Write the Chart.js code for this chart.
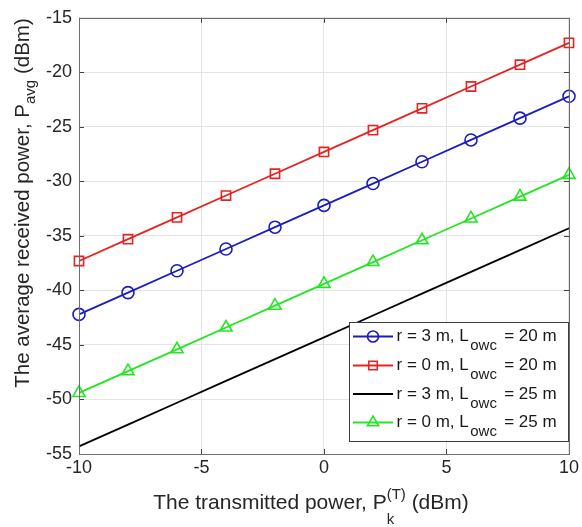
<!DOCTYPE html>
<html>
<head>
<meta charset="utf-8">
<script src="https://cdn.jsdelivr.net/npm/chart.js@4.4.1/dist/chart.umd.min.js"></script>
<style>
  html, body { margin: 0; padding: 0; background: #fff; }
  #wrap { position: relative; width: 582px; height: 527px; }
</style>
</head>
<body>
<div id="wrap"><canvas id="chart" width="582" height="527"></canvas></div>
<script>
// transmitted power P_k^(T) in dBm
const txPower = [-10, -8, -6, -4, -2, 0, 2, 4, 6, 8, 10];

// average received power in dBm
const rxR3L20 = [-42.2, -40.2, -38.2, -36.2, -34.2, -32.2, -30.2, -28.2, -26.2, -24.2, -22.2];
const rxR0L20 = [-37.3, -35.3, -33.3, -31.3, -29.3, -27.3, -25.3, -23.3, -21.3, -19.3, -17.3];
const rxR3L25 = [-54.3, -52.3, -50.3, -48.3, -46.3, -44.3, -42.3, -40.3, -38.3, -36.3, -34.3];
const rxR0L25 = [-49.4, -47.4, -45.4, -43.4, -41.4, -39.4, -37.4, -35.4, -33.4, -31.4, -29.4];

const xTicks = [-10, -5, 0, 5, 10];
const yTicks = [-55, -50, -45, -40, -35, -30, -25, -20, -15];

// legend text: [before subscript, subscript, after]
const seriesNames = [
  ['r = 3 m, L', 'owc', ' = 20 m'],
  ['r = 0 m, L', 'owc', ' = 20 m'],
  ['r = 3 m, L', 'owc', ' = 25 m'],
  ['r = 0 m, L', 'owc', ' = 25 m']
];

const FONT = '"Liberation Sans", Arial, Helvetica, sans-serif';
const AXIS_GRAY = '#6e6e6e';

const styles = [
  { color: '#1c1cc0', pointStyle: 'circle', radius: 6 },
  { color: '#e82222', pointStyle: 'rect', radius: 6.5 },
  { color: '#000000', pointStyle: false, radius: 0 },
  { color: '#22e622', pointStyle: 'triangle', radius: 7 }
];

const toPoints = ys => txPower.map((x, i) => ({ x, y: ys[i] }));
const seriesData = [rxR3L20, rxR0L20, rxR3L25, rxR0L25];

const datasets = seriesData.map((ys, i) => ({
  label: seriesNames[i].join(''),
  data: toPoints(ys),
  borderColor: styles[i].color,
  backgroundColor: 'rgba(0,0,0,0)',
  borderWidth: 1.8,
  pointStyle: styles[i].pointStyle || 'circle',
  pointRadius: styles[i].radius,
  pointBorderWidth: 1.6,
  pointBackgroundColor: 'rgba(0,0,0,0)',
  pointBorderColor: styles[i].color,
  tension: 0,
  clip: false
}));

// draw a string made of parts with different size / vertical shift
function drawParts(ctx, parts, x, y) {
  let cx = x;
  parts.forEach(p => {
    cx += p.gap || 0;
    if (p.stack) {
      // superscript and subscript stacked at the same x
      let w = 0;
      p.stack.forEach(s => {
        ctx.font = s.size + 'px ' + FONT;
        ctx.fillText(s.text, cx, y + s.dy);
        w = Math.max(w, ctx.measureText(s.text).width);
      });
      cx += w;
    } else {
      ctx.font = p.size + 'px ' + FONT;
      ctx.fillText(p.text, cx, y + (p.dy || 0));
      cx += ctx.measureText(p.text).width;
    }
  });
  return cx - x;
}

function measureParts(ctx, parts) {
  let w = 0;
  parts.forEach(p => {
    w += p.gap || 0;
    if (p.stack) {
      let m = 0;
      p.stack.forEach(s => {
        ctx.font = s.size + 'px ' + FONT;
        m = Math.max(m, ctx.measureText(s.text).width);
      });
      w += m;
    } else {
      ctx.font = p.size + 'px ' + FONT;
      w += ctx.measureText(p.text).width;
    }
  });
  return w;
}

const xTitle = [
  { text: 'The transmitted power, P', size: 21 },
  { stack: [{ text: '(T)', size: 15, dy: -10 }, { text: 'k', size: 15, dy: 15 }] },
  { text: ' (dBm)', size: 21 }
];
const yTitle = [
  { text: 'The average received power, P', size: 20.5 },
  { text: 'avg', size: 15, dy: 6 },
  { text: ' (dBm)', size: 20.5 }
];

const matlabFrame = {
  id: 'matlabFrame',
  afterDraw(chart) {
    const { ctx, chartArea: a, scales } = chart;
    ctx.save();

    // inward tick marks on all four sides
    ctx.strokeStyle = '#404040';
    ctx.lineWidth = 1;
    ctx.beginPath();
    xTicks.forEach(v => {
      const px = Math.round(scales.x.getPixelForValue(v)) + 0.5;
      ctx.moveTo(px, a.bottom); ctx.lineTo(px, a.bottom - 5);
      ctx.moveTo(px, a.top); ctx.lineTo(px, a.top + 5);
    });
    yTicks.forEach(v => {
      const py = Math.round(scales.y.getPixelForValue(v)) + 0.5;
      ctx.moveTo(a.left, py); ctx.lineTo(a.left + 5, py);
      ctx.moveTo(a.right, py); ctx.lineTo(a.right - 5, py);
    });
    ctx.stroke();

    // box
    ctx.strokeStyle = AXIS_GRAY;
    ctx.strokeRect(Math.round(a.left) + 0.5, Math.round(a.top) + 0.5,
      Math.round(a.right - a.left), Math.round(a.bottom - a.top));

    // axis titles
    ctx.fillStyle = '#262626';
    ctx.textBaseline = 'alphabetic';
    ctx.textAlign = 'left';
    const xw = measureParts(ctx, xTitle);
    drawParts(ctx, xTitle, 311 - xw / 2, 509);

    const yw = measureParts(ctx, yTitle);
    ctx.save();
    ctx.translate(28.5, 203);
    ctx.rotate(-Math.PI / 2);
    drawParts(ctx, yTitle, -yw / 2, 0);
    ctx.restore();

    // legend box
    const lx = 349.5, ly = 322.5, lw = 219, lh = 119;
    ctx.fillStyle = '#ffffff';
    ctx.fillRect(lx, ly, lw, lh);
    ctx.strokeStyle = '#3c3c3c';
    ctx.lineWidth = 1;
    ctx.strokeRect(lx, ly, lw, lh);

    const rowY = [336.5, 365.5, 394, 422.5];
    chart.data.datasets.forEach((ds, i) => {
      const y = rowY[i];
      ctx.strokeStyle = ds.borderColor;
      ctx.lineWidth = ds.borderWidth;
      ctx.beginPath();
      ctx.moveTo(353, y); ctx.lineTo(393, y);
      ctx.stroke();
      if (ds.pointRadius > 0) {
        ctx.fillStyle = 'rgba(0,0,0,0)';
        ctx.lineWidth = ds.pointBorderWidth;
        Chart.helpers.drawPoint(ctx, {
          pointStyle: ds.pointStyle, radius: ds.pointRadius - 0.5,
          rotation: 0, borderWidth: ds.pointBorderWidth
        }, 373, y);
      }
      const [pre, sub, post] = seriesNames[i];
      ctx.fillStyle = '#1a1a1a';
      drawParts(ctx, [
        { text: pre, size: 17 },
        { text: sub, size: 15, dy: 9, gap: 1.5 },
        { text: post, size: 17, gap: 2.5 }
      ], 396.5, y + 4.5);
    });

    ctx.restore();
  }
};

new Chart(document.getElementById('chart'), {
  type: 'line',
  data: { datasets },
  options: {
    responsive: false,
    animation: false,
    devicePixelRatio: 1,
    layout: { padding: { top: 14, right: 11, left: 0, bottom: 0 } },
    plugins: {
      legend: { display: false },
      tooltip: { enabled: false }
    },
    scales: {
      x: {
        type: 'linear',
        min: -10,
        max: 10,
        afterBuildTicks: s => { s.ticks = xTicks.map(v => ({ value: v })); },
        afterFit: s => { s.height = 73; },
        grid: { color: '#e4e4e4', drawTicks: false },
        border: { display: false },
        ticks: {
          padding: 3,
          color: '#262626',
          font: { family: FONT, size: 18 },
          maxRotation: 0
        }
      },
      y: {
        type: 'linear',
        min: -55,
        max: -15,
        afterBuildTicks: s => { s.ticks = yTicks.map(v => ({ value: v })); },
        afterFit: s => { s.width = 79; },
        grid: { color: '#e4e4e4', drawTicks: false },
        border: { display: false },
        ticks: {
          padding: 7,
          color: '#262626',
          font: { family: FONT, size: 18 }
        }
      }
    }
  },
  plugins: [matlabFrame]
});
</script>
</body>
</html>
